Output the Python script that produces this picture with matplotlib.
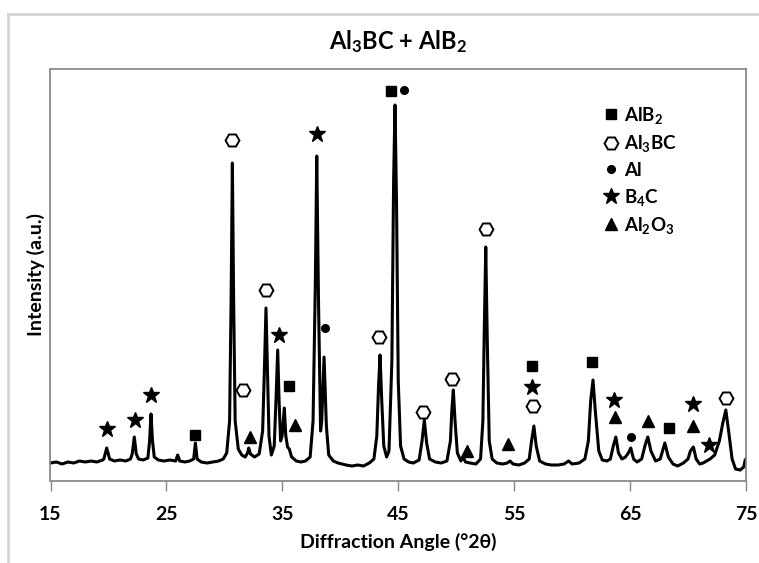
import matplotlib
matplotlib.use("Agg")
import matplotlib.pyplot as plt
from matplotlib.lines import Line2D

plt.rcParams['font.family'] = ['Lato', 'DejaVu Sans']
plt.rcParams['font.weight'] = 'bold'
plt.rcParams['mathtext.fontset'] = 'custom'
plt.rcParams['mathtext.rm'] = 'Lato:bold'
plt.rcParams['mathtext.it'] = 'Lato:bold'
plt.rcParams['mathtext.bf'] = 'Lato:bold'

# ---- XRD pattern (intensity in arbitrary units) ----
two_theta = [
    15.0, 15.5, 16.0, 16.5, 17.0, 17.5, 18.0, 18.5, 19.0, 19.5,
    19.6, 19.85, 20.1, 20.5, 21.0, 21.5, 21.9,
    22.05, 22.23, 22.4, 22.6, 23.0, 23.4, 23.55, 23.67, 23.8, 23.95,
    24.3, 24.8, 25.3, 25.8, 25.97, 26.15, 26.6, 27.0, 27.35, 27.5, 27.65,
    28.0, 28.5, 29.0, 29.5, 29.9, 30.2, 30.45, 30.58, 30.69, 30.8, 30.93,
    31.2, 31.5, 31.8, 32.0, 32.1, 32.25, 32.6, 33.0, 33.3, 33.45, 33.59,
    33.72, 33.85, 34.05, 34.3, 34.45, 34.6, 34.72, 34.85, 34.98, 35.17,
    35.3, 35.45, 35.6, 35.8, 36.2, 36.6, 37.0, 37.4, 37.65, 37.85, 37.97,
    38.12, 38.3, 38.4, 38.6, 38.8, 39.0, 39.4, 39.8, 40.5, 41.0, 41.5,
    42.0, 42.5, 42.9, 43.15, 43.3, 43.43, 43.56, 43.75, 44.0, 44.2, 44.45,
    44.6, 44.72, 44.85, 45.0, 45.2, 45.5, 45.9, 46.3, 46.8, 47.05, 47.25,
    47.45, 47.7, 48.2, 48.7, 49.2, 49.5, 49.62, 49.75, 49.9, 50.1, 50.4,
    50.6, 50.8, 51.2, 51.7, 52.1, 52.3, 52.42, 52.55, 52.68, 52.85, 53.1,
    53.5, 54.0, 54.4, 54.65, 54.9, 55.4, 55.9, 56.3, 56.5, 56.7, 56.9,
    57.2, 57.7, 58.2, 58.8, 59.3, 59.7, 60.0, 60.6, 61.1, 61.4, 61.6,
    61.8, 62.0, 62.3, 62.6, 63.0, 63.3, 63.55, 63.77, 64.0, 64.3, 64.6,
    64.85, 65.06, 65.3, 65.6, 66.0, 66.3, 66.53, 66.8, 67.2, 67.6, 68.0,
    68.3, 68.7, 69.1, 69.6, 70.0, 70.2, 70.46, 70.7, 71.0, 71.3, 71.6,
    71.9, 72.3, 72.7, 73.0, 73.26, 73.5, 73.8, 74.1, 74.5, 74.8, 74.93, 75.0,
]
intensity = [
    18, 19, 17, 19, 18, 20, 19, 20, 19, 21,
    22, 33, 22, 20, 21, 20, 22,
    27, 44, 27, 22, 21, 23, 40, 67, 40, 24,
    21, 20, 21, 20, 26, 20, 19, 20, 22, 38, 22,
    19, 18, 19, 20, 22, 28, 60, 180, 318, 180, 60,
    32, 26, 24, 28, 33, 27, 24, 27, 50, 110, 173,
    110, 45, 26, 35, 80, 131, 80, 40, 45, 73,
    45, 34, 32, 24, 20, 19, 20, 24, 60, 200, 325,
    180, 50, 60, 124, 55, 26, 20, 18, 16, 15, 16,
    15, 18, 22, 45, 95, 126, 85, 35, 24, 30, 120,
    300, 376, 280, 100, 35, 22, 19, 18, 21, 40, 61,
    38, 22, 19, 18, 20, 40, 70, 91, 60, 28, 20,
    24, 19, 18, 17, 22, 60, 150, 234, 140, 40, 22,
    18, 17, 18, 20, 17, 16, 18, 22, 40, 55, 35,
    20, 17, 16, 16, 17, 20, 17, 18, 22, 40, 80,
    101, 70, 30, 21, 20, 22, 35, 44, 28, 22, 24,
    28, 33, 22, 19, 22, 36, 44, 30, 20, 22, 38,
    24, 17, 15, 18, 22, 30, 34, 22, 17, 18, 20,
    22, 26, 40, 58, 71, 50, 22, 12, 11, 14, 21, 22,
]

# ---- phase markers (position, height) ----
alb2_x = [27.5, 35.6, 44.38, 56.57, 61.75, 68.39]
alb2_y = [46, 95, 390, 115, 119, 53]
al3bc_x = [30.69, 31.63, 33.6, 43.37, 47.17, 49.67, 52.55, 56.6, 73.26]
al3bc_y = [341, 91, 191, 144, 69, 102, 252, 75, 83]
al_x = [38.69, 45.5, 65.06]
al_y = [153, 391, 44]
b4c_x = [19.85, 22.3, 23.7, 37.99, 34.7, 56.57, 63.62, 70.4, 71.8]
b4c_y = [52, 61, 86, 347, 146, 94, 81, 77, 36]
al2o3_x = [32.2, 36.1, 50.9, 54.5, 63.7, 66.53, 70.46]
al2o3_y = [44, 56, 30, 37, 64, 60, 55]

x_ticks = [15, 25, 35, 45, 55, 65, 75]

W, H = 759, 563
fig = plt.figure(figsize=(W / 100, H / 100), dpi=100)
ax = fig.add_axes([50.5 / W, 1 - 481 / H, (746 - 50.5) / W, (481 - 69) / H])

ax.plot(two_theta, intensity, color='black', lw=2.2, solid_joinstyle='round')

ax.plot(alb2_x, alb2_y, 's', color='black', ms=7, ls='none')
ax.plot(al3bc_x, al3bc_y, 'H', mfc='white', mec='black', mew=1.4, ms=10, ls='none')
ax.plot(al_x, al_y, 'o', color='black', ms=5.5, ls='none')
ax.plot(b4c_x, b4c_y, '*', color='black', ms=12, ls='none')
ax.plot(al2o3_x, al2o3_y, '^', color='black', ms=8, ls='none')

ax.set_xlim(15, 75)
ax.set_ylim(0, 412)
ax.set_xticks(x_ticks)
ax.set_xticklabels([str(t) for t in x_ticks])
ax.set_yticks([])
ax.tick_params(axis='x', direction='out', length=7, width=1, color='#888888',
               labelsize=14, pad=11)
for sp in ax.spines.values():
    sp.set_color('#808080')
    sp.set_linewidth(1.2)

ax.set_xlabel('Diffraction Angle (°2θ)', fontsize=14, fontweight='bold', labelpad=7)
ax.set_ylabel('Intensity (a.u.)', fontsize=14, fontweight='bold', labelpad=4)

fig.text(398 / W, 1 - 42 / H, r'Al$_3$BC + AlB$_2$', ha='center', va='center',
         fontsize=17, fontweight='bold')

handles = [
    Line2D([], [], marker='s', color='black', ls='none', ms=7),
    Line2D([], [], marker='H', mfc='white', mec='black', mew=1.4, ls='none', ms=10),
    Line2D([], [], marker='o', color='black', ls='none', ms=5.5),
    Line2D([], [], marker='*', color='black', ls='none', ms=12),
    Line2D([], [], marker='^', color='black', ls='none', ms=8),
]
labels = [r'AlB$_2$', r'Al$_3$BC', 'Al', r'B$_4$C', r'Al$_2$O$_3$']
leg = ax.legend(handles, labels, loc='upper left',
                bbox_to_anchor=((603 - 50.5) / (746 - 50.5), (481 - 105) / (481 - 69)),
                frameon=False, fontsize=13.5, handlelength=0.8, handletextpad=0.3,
                labelspacing=0.4, borderaxespad=0, borderpad=0)
for t in leg.get_texts():
    t.set_fontweight('bold')

# outer light-grey frame (top and left edges)
fig.add_artist(Line2D([8 / W, 1], [1 - 14 / H, 1 - 14 / H], color='#d0d0d0', lw=1.8,
                      transform=fig.transFigure))
fig.add_artist(Line2D([8 / W, 8 / W], [0, 1 - 14 / H], color='#d0d0d0', lw=1.8,
                      transform=fig.transFigure))

fig.savefig('out.png', dpi=100)
